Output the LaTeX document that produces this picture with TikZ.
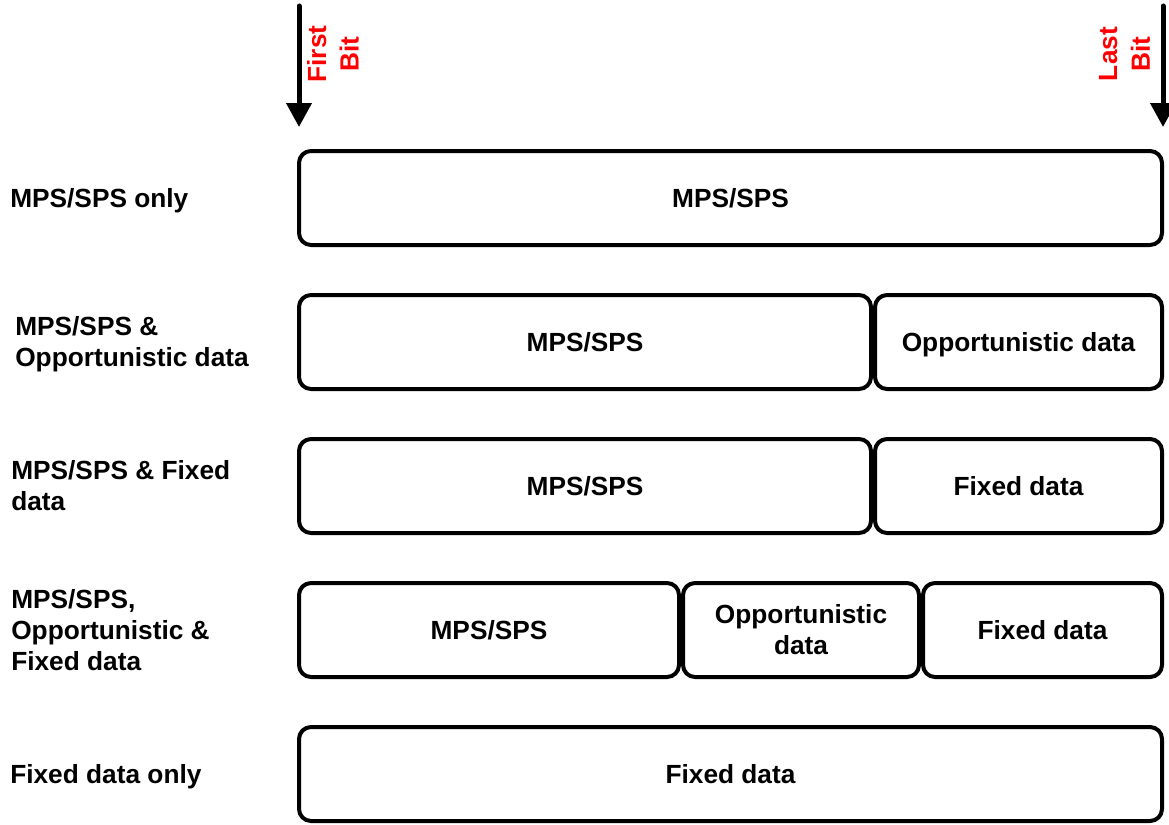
\documentclass[tikz,border=0pt]{standalone}
\usepackage{fontspec}
\setmainfont{Liberation Sans}
\usetikzlibrary{positioning,arrows.meta}

\begin{document}
\begin{tikzpicture}[x=0.75pt, y=-0.75pt,
  font=\fontsize{19.7}{23.3}\selectfont\bfseries,
  seg/.style = {draw, line width=3pt, rounded corners=9pt, minimum height=70.5pt, inner sep=0pt, align=center},
  lbl/.style = {anchor=west, inner sep=0pt, align=left},
  one/.style = {text height=14.4pt, text depth=0.3pt},
  bit/.style = {red, rotate=90, inner sep=0pt, align=center, font=\fontsize{19.7}{24.5}\selectfont\bfseries},
  arr/.style = {line width=3.75pt, line cap=round, -{Triangle[width=18.5pt, length=18pt]}}]
\useasboundingbox (0,0) rectangle (1169,824);

% first and last bit
\coordinate (fb) at (299,6);
\coordinate (ft) at (299,127);
\coordinate (lb) at (1163,6);
\coordinate (lt) at (1163,127);
\draw[arr] (fb) -- (ft);
\draw[arr] (lb) -- (lt);
\node[bit] (first) at (333,54) {First\\Bit};
\node[bit] (last) at (1124.5,54) {Last\\Bit};

% rows
\node[lbl, one] (l1) at (10,198) {MPS/SPS only};
\node[seg, one, minimum width=647.25pt] (r1a) at (730.5,198) {MPS/SPS};

\node[lbl] (l2) at (15,344) {MPS/SPS \&\\Opportunistic data};
\node[seg, one, minimum width=429pt] (r2a) at (585,342) {MPS/SPS};
\node[seg, one, minimum width=215.25pt, right=0pt of r2a] (r2b) {Opportunistic data};

\node[lbl] (l3) at (11,486) {MPS/SPS \& Fixed\\data};
\node[seg, one, minimum width=429pt] (r3a) at (585,486) {MPS/SPS};
\node[seg, one, minimum width=215.25pt, right=0pt of r3a] (r3b) {Fixed data};

\node[lbl] (l4) at (11,630) {MPS/SPS,\\Opportunistic \&\\Fixed data};
\node[seg, one, minimum width=285pt] (r4a) at (489,630) {MPS/SPS};
\node[seg, minimum width=177pt, right=0pt of r4a] (r4b) {Opportunistic\\data};
\node[seg, one, minimum width=179.25pt, right=0pt of r4b] (r4c) {Fixed data};

\node[lbl, one] (l5) at (10,774) {Fixed data only};
\node[seg, one, minimum width=647.25pt] (r5a) at (730.5,774) {Fixed data};
\end{tikzpicture}
\end{document}
